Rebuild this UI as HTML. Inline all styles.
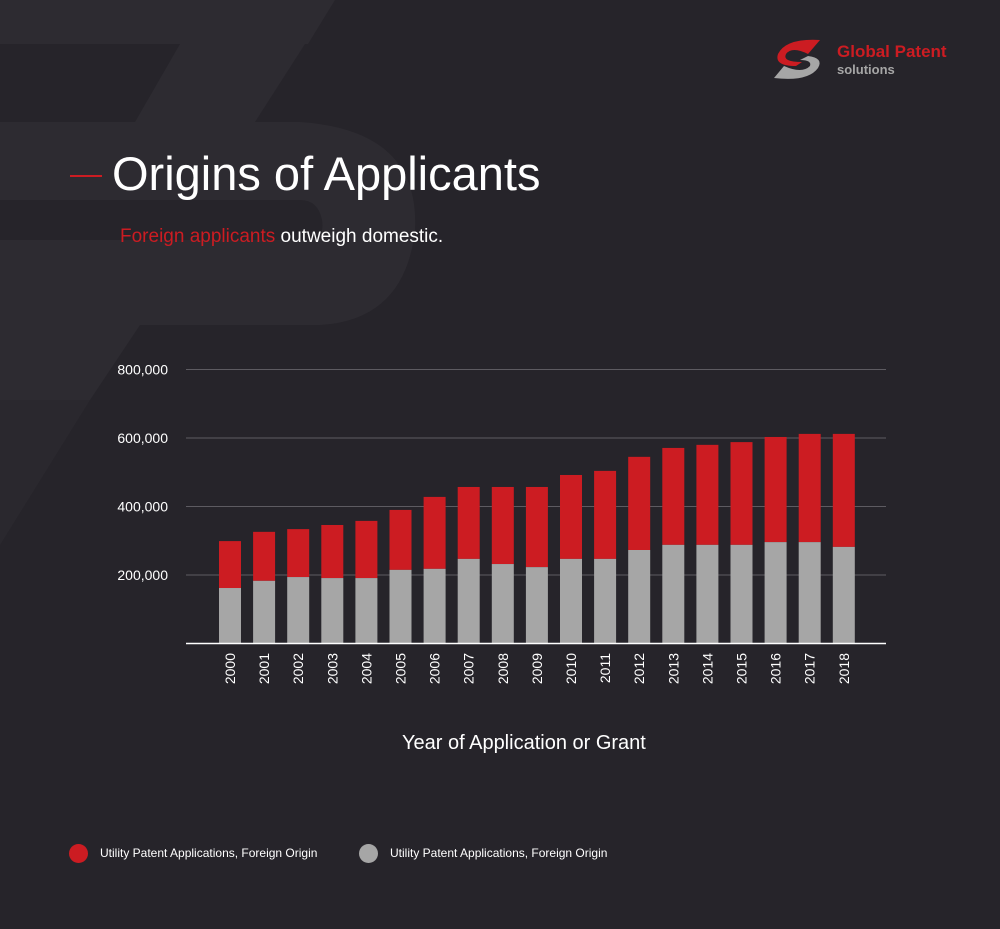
<!DOCTYPE html>
<html><head><meta charset="utf-8"><style>
body{margin:0;background:#26242a;font-family:"Liberation Sans",sans-serif;}
#wrap{position:relative;width:1000px;height:929px;overflow:hidden;background:#26242a;}
.t{position:absolute;color:#fff;white-space:nowrap;}
</style></head><body>
<div id="wrap">
<svg width="1000" height="929" style="position:absolute;left:0;top:0">
<polygon points="210,0 335,0 308,44 0,44 0,0" fill="#2d2b31"/>
<polygon points="180,44 305,44 255,122 135,122" fill="#2d2b31"/>
<path d="M0,122 L300,122 Q420,130 415,230 Q405,320 320,325 L0,325 L0,240 L310,240 Q325,238 322,220 Q318,200 300,200 L0,200 Z" fill="#2d2b31"/>
<polygon points="0,325 140,325 90,400 0,400" fill="#2d2b31"/>
<polygon points="0,400 90,400 0,545" fill="#2a282e"/>
</svg>
<div style="position:absolute;left:772px;top:38px;width:200px;height:44px">
<svg width="62" height="44" style="position:absolute;left:0;top:0"><path d="M48,2 L36,16 Q20,8 14,16 Q10,24 30,24 L24,28 Q2,28 6,16 Q14,0 48,2Z" fill="#cc1c22"/><path d="M2,40 L12,28 Q30,36 38,28 Q40,22 28,22 L36,18 Q52,20 46,30 Q36,44 2,40Z" fill="#a6a6a6"/></svg>
<div class="t" style="left:65px;top:4px;font-size:17px;font-weight:bold;color:#cc1c22">Global Patent</div>
<div class="t" style="left:65px;top:24px;font-size:13px;font-weight:bold;color:#a6a6a6">solutions</div>
</div>
<div style="position:absolute;left:70px;top:175px;width:32px;height:2px;background:#cc1c22"></div>
<div class="t" style="left:112px;top:146px;font-size:47px">Origins of Applicants</div>
<div class="t" style="left:120px;top:226px;font-size:19px"><span style="color:#cc1c22">Foreign applicants</span> outweigh domestic.</div>
<svg id="chart" width="1000" height="929" style="position:absolute;left:0;top:0"></svg>
<div class="t" style="left:402px;top:732px;font-size:20px">Year of Application or Grant</div>
<div style="position:absolute;left:69px;top:844px;"><span style="position:absolute;left:0;top:0;width:19px;height:19px;border-radius:50%;background:#cc1c22"></span><span class="t" style="left:31px;top:2px;font-size:12px">Utility Patent Applications, Foreign Origin</span></div>
<div style="position:absolute;left:359px;top:844px;"><span style="position:absolute;left:0;top:0;width:19px;height:19px;border-radius:50%;background:#a6a6a6"></span><span class="t" style="left:31px;top:2px;font-size:12px">Utility Patent Applications, Foreign Origin</span></div>
</div>
<script>
const years=["2000","2001","2002","2003","2004","2005","2006","2007","2008","2009","2010","2011","2012","2013","2014","2015","2016","2017","2018"];
const totals=[299000,326000,334000,346000,358000,390000,428000,457000,457000,457000,492000,504000,545000,571000,580000,588000,603000,612000,612000];
const domestic=[162000,183000,194000,191000,191000,215000,218000,247000,232000,223000,247000,247000,273000,288000,288000,288000,296000,296000,282000];
const yTicks=[200000,400000,600000,800000];
const yTickLabels=["200,000","400,000","600,000","800,000"];
const NS="http://www.w3.org/2000/svg";
const svg=document.getElementById('chart');
const x0=186,x1=886,y0=643.5,pxPer=68.5/200000;
const y=v=>y0-v*pxPer;
const step=34.1,first=230;
const xc=i=>first+i*step;
function mk(t,a){const e=document.createElementNS(NS,t);for(const k in a)e.setAttribute(k,a[k]);svg.appendChild(e);return e;}
yTicks.forEach((v,i)=>{
 const l=mk('line',{x1:x0,x2:x1,y1:y(v),y2:y(v),stroke:'#5d5b61','stroke-width':1});
 
 
 const t=mk('text',{x:168,y:y(v)+5,'text-anchor':'end',fill:'#fff','font-size':14,'font-family':'Liberation Sans, sans-serif'});
 t.textContent=yTickLabels[i];
 
 
});
years.forEach((yr,i)=>{
 const cx=xc(i);
 const r=mk('rect',{x:cx-11,y:y(totals[i]),width:22,height:y(domestic[i])-y(totals[i]),fill:'#cc1c22'});
 
 
 const g=mk('rect',{x:cx-11,y:y(domestic[i]),width:22,height:y0-y(domestic[i]),fill:'#a6a6a6'});
 
 
 const t=mk('text',{x:0,y:0,transform:`translate(${cx+5},${653}) rotate(-90)`,'text-anchor':'end',fill:'#fff','font-size':14,'font-family':'Liberation Sans, sans-serif'});
 t.textContent=yr;
 
 
});
const ax=mk('line',{x1:x0,x2:x1,y1:y0,y2:y0,stroke:'#fff','stroke-width':1.5});


</script>
</body></html>
